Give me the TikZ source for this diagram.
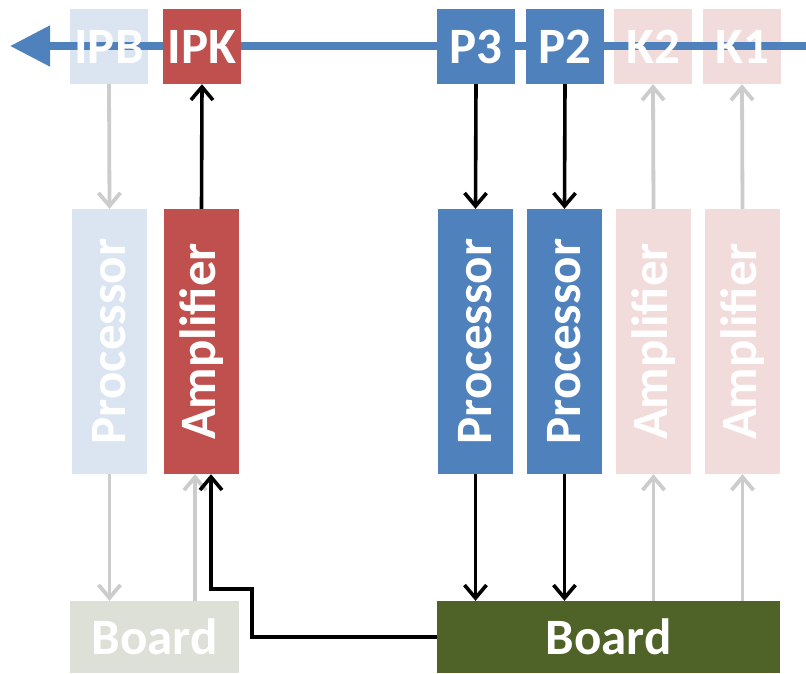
\documentclass[tikz,border=0pt]{standalone}
\usepackage{fontspec}
\setmainfont{Carlito}
\usetikzlibrary{arrows.meta,calc}
\definecolor{cred}{HTML}{C0504D}
\definecolor{cblue}{HTML}{4F81BD}
\definecolor{cgreen}{HTML}{4F6228}
\definecolor{fblue}{HTML}{DBE5F1}
\definecolor{fred}{HTML}{F2DCDB}
\definecolor{fgreen}{HTML}{DDE0D6}
\definecolor{garr}{HTML}{CCCCCC}
\tikzset{
  box/.style={inner sep=0pt, text=white, font=\fontsize{51}{56}\selectfont\bfseries},
  topbox/.style={box, minimum width=78pt, minimum height=75pt},
  midbox/.style={box, minimum width=75pt, minimum height=265pt},
  vtext/.style={rotate=90},
  flabel/.style={text=white, inner sep=0pt, font=\fontsize{51}{56}\selectfont\bfseries},
  barrow/.style={line width=3.6pt, -{Straight Barb[length=13pt,width=22pt]}},
  garrow/.style={line width=3.8pt, garr, -{Straight Barb[length=13pt,width=22pt]}},
  bluearrow/.style={line width=8pt, cblue, -{Triangle[length=40pt,width=39pt]}},
}
\begin{document}
\begin{tikzpicture}[x=1pt,y=-1pt]
\useasboundingbox (0,0) rectangle (806,673);
% faded boxes (fills only)
\node[topbox, fill=fblue] (ipb) at (109,46.5) {};
\node[topbox, fill=fred] (k2) at (653,46.5) {};
\node[topbox, fill=fred] (k1) at (742,46.5) {};
\node[midbox, fill=fblue] (proc1) at (109.5,341.5) {};
\node[midbox, fill=fred] (amp3) at (653.5,341.5) {};
\node[midbox, fill=fred] (amp4) at (742.5,341.5) {};
\node[box, fill=fgreen, minimum width=169pt, minimum height=72pt] (board1) at (154.5,637) {};
% blue line
\coordinate (lstart) at (806,46);
\coordinate (lend) at (10,46);
\draw[bluearrow] (lstart) -- (lend);
% opaque boxes
\node[topbox, fill=cred] (ipk) at (202,46.5) {IPK};
\node[topbox, fill=cblue] (p3) at (476,46.5) {P3};
\node[topbox, fill=cblue] (p2) at (565,46.5) {P2};
\node[midbox, fill=cred] (amp1) at (201.5,341.5) {\rotatebox{90}{Amplifier}};
\node[midbox, fill=cblue] (proc3) at (475.5,341.5) {\rotatebox{90}{Processor}};
\node[midbox, fill=cblue] (proc2) at (564.5,341.5) {\rotatebox{90}{Processor}};
\node[box, fill=cgreen, minimum width=343pt, minimum height=72pt] (board2) at (608.5,637) {Board};
% faded texts
\node[flabel] at (ipb) {IPB};
\node[flabel] at (k2) {K2};
\node[flabel] at (k1) {K1};
\node[flabel, vtext] at (proc1) {Processor};
\node[flabel, vtext] at (amp3) {Amplifier};
\node[flabel, vtext] at (amp4) {Amplifier};
\node[flabel] at (board1) {Board};
% gray arrows
\draw[garrow] (ipb.south) -- (proc1.north);
\draw[garrow] (proc1.south) -- (proc1.south |- board1.north);
\coordinate (g1) at ([xshift=-6.5pt]amp1.south);
\draw[garrow] (g1 |- board1.north) -- (g1);
\draw[garrow] (amp3.south |- board2.north) -- (amp3.south);
\draw[garrow] (amp4.south |- board2.north) -- (amp4.south);
\draw[garrow] (amp3.north) -- (k2.south);
\draw[garrow] (amp4.north) -- (k1.south);
% black arrows
\draw[barrow] (amp1.north) -- (ipk.south);
\draw[barrow] (p3.south) -- (proc3.north);
\draw[barrow] (p2.south) -- (proc2.north);
\draw[barrow] (proc3.south) -- (proc3.south |- board2.north);
\draw[barrow] (proc2.south) -- (proc2.south |- board2.north);
\coordinate (t1) at ([xshift=9.5pt]amp1.south);
\coordinate (k0) at (252,589);
\draw[barrow] (board2.west) -| (k0) -| (t1);
\end{tikzpicture}
\end{document}
